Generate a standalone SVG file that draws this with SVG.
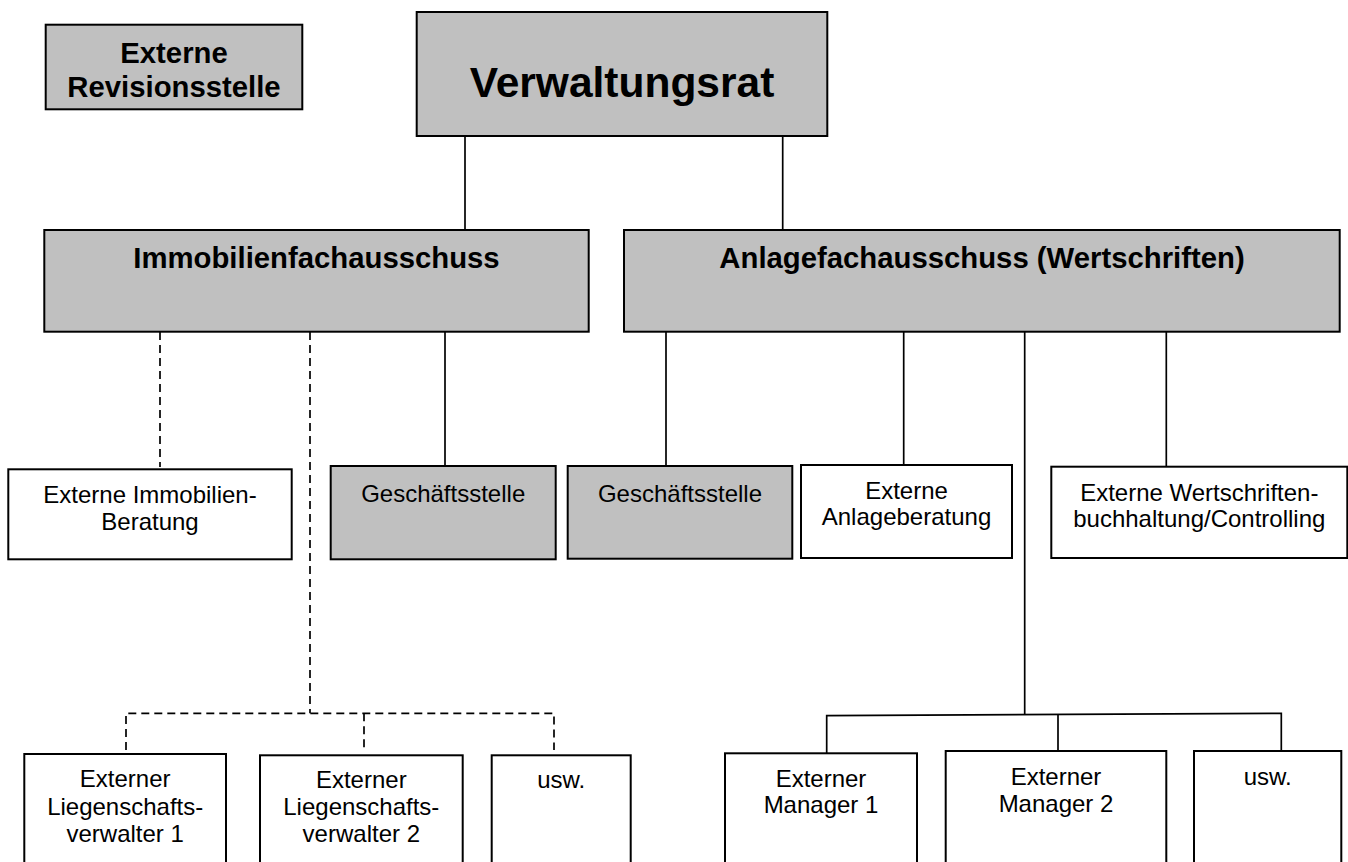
<svg xmlns="http://www.w3.org/2000/svg" width="1348" height="862" viewBox="0 0 1348 862">
<style>
.box{stroke:#000;stroke-width:2}
.g{fill:#c0c0c0}
.w{fill:#fff}
.b{font-family:"Liberation Sans",Arial,sans-serif;font-weight:bold;text-anchor:middle;fill:#000}
.r{font-family:"Liberation Sans",Arial,sans-serif;font-size:24px;text-anchor:middle;fill:#000}
.s{fill:none;stroke:#000;stroke-width:1.7}
.d{fill:none;stroke:#000;stroke-width:1.7;stroke-dasharray:8 5}
</style>
<rect width="1348" height="862" fill="#fff"/>
<g id="connectors">
<line class="s" x1="465" y1="136" x2="465" y2="230"/>
<line class="s" x1="782.7" y1="136" x2="782.7" y2="230"/>
<line class="d" x1="160" y1="332" x2="160" y2="467"/>
<line class="d" x1="310" y1="332" x2="310" y2="713.3"/>
<line class="s" x1="445" y1="332" x2="445" y2="466"/>
<line class="s" x1="666" y1="332" x2="666" y2="466"/>
<line class="s" x1="903.7" y1="332" x2="903.7" y2="465"/>
<line class="s" x1="1024.7" y1="332" x2="1024.7" y2="714"/>
<line class="s" x1="1166.3" y1="332" x2="1166.3" y2="466.7"/>
<polyline class="d" points="126,750 126,713.3 554,713.3 554,750"/>
<line class="d" x1="364" y1="713.3" x2="364" y2="750"/>
<polyline class="s" points="826.7,753.3 826.7,715.7 1281.3,713.3 1281.3,751"/>
<line class="s" x1="1058" y1="714.5" x2="1058" y2="751"/>
</g>
<g id="externe-revisionsstelle">
<rect class="box g" x="45.7" y="24.7" width="256.6" height="84.6"/>
<text class="b" x="174" y="63.3" font-size="29.3">Externe</text>
<text class="b" x="174" y="96.7" font-size="29.3">Revisionsstelle</text>
</g>
<g id="verwaltungsrat">
<rect class="box g" x="416.7" y="12" width="410.6" height="124"/>
<text class="b" x="622" y="96.7" font-size="42.5">Verwaltungsrat</text>
</g>
<g id="immobilienfachausschuss">
<rect class="box g" x="44.3" y="230" width="544.4" height="101.7"/>
<text class="b" x="316.5" y="268.3" font-size="29.3">Immobilienfachausschuss</text>
</g>
<g id="anlagefachausschuss">
<rect class="box g" x="624" y="230" width="715.7" height="101.7"/>
<text class="b" x="982" y="268.3" font-size="29.3">Anlagefachausschuss (Wertschriften)</text>
</g>
<g id="externe-immobilien-beratung">
<rect class="box w" x="8.3" y="469.3" width="283.4" height="90"/>
<text class="r" x="150" y="502.7">Externe Immobilien-</text>
<text class="r" x="150" y="530">Beratung</text>
</g>
<g id="geschaeftsstelle-immobilien">
<rect class="box g" x="330.7" y="466" width="225" height="93.3"/>
<text class="r" x="443.2" y="501.7" font-size="26.5">Geschäftsstelle</text>
</g>
<g id="geschaeftsstelle-anlage">
<rect class="box g" x="567.7" y="466" width="224.6" height="92.7"/>
<text class="r" x="680" y="501.7" font-size="26.5">Geschäftsstelle</text>
</g>
<g id="externe-anlageberatung">
<rect class="box w" x="801" y="465" width="211" height="93"/>
<text class="r" x="906.5" y="499.3">Externe</text>
<text class="r" x="906.5" y="525">Anlageberatung</text>
</g>
<g id="externe-wertschriftenbuchhaltung">
<rect class="box w" x="1051.3" y="466.7" width="296" height="91.3"/>
<text class="r" x="1199.3" y="500.7">Externe Wertschriften-</text>
<text class="r" x="1199.3" y="526.7">buchhaltung/Controlling</text>
</g>
<g id="liegenschaftsverwalter-1">
<rect class="box w" x="24.3" y="754" width="201.7" height="140"/>
<text class="r" x="125.2" y="787.3">Externer</text>
<text class="r" x="125.2" y="814.5">Liegenschafts-</text>
<text class="r" x="125.2" y="841.7">verwalter 1</text>
</g>
<g id="liegenschaftsverwalter-2">
<rect class="box w" x="260" y="755.3" width="202.7" height="140"/>
<text class="r" x="361.3" y="788">Externer</text>
<text class="r" x="361.3" y="815">Liegenschafts-</text>
<text class="r" x="361.3" y="842">verwalter 2</text>
</g>
<g id="usw-immobilien">
<rect class="box w" x="491.7" y="755.3" width="139" height="140"/>
<text class="r" x="561.2" y="788.3">usw.</text>
</g>
<g id="manager-1">
<rect class="box w" x="725" y="753.3" width="192" height="140"/>
<text class="r" x="821" y="786.7">Externer</text>
<text class="r" x="821" y="813.3">Manager 1</text>
</g>
<g id="manager-2">
<rect class="box w" x="945.7" y="751" width="220.6" height="140"/>
<text class="r" x="1056" y="785">Externer</text>
<text class="r" x="1056" y="811.7">Manager 2</text>
</g>
<g id="usw-anlage">
<rect class="box w" x="1194" y="751" width="147.3" height="140"/>
<text class="r" x="1267.7" y="785">usw.</text>
</g>
</svg>
